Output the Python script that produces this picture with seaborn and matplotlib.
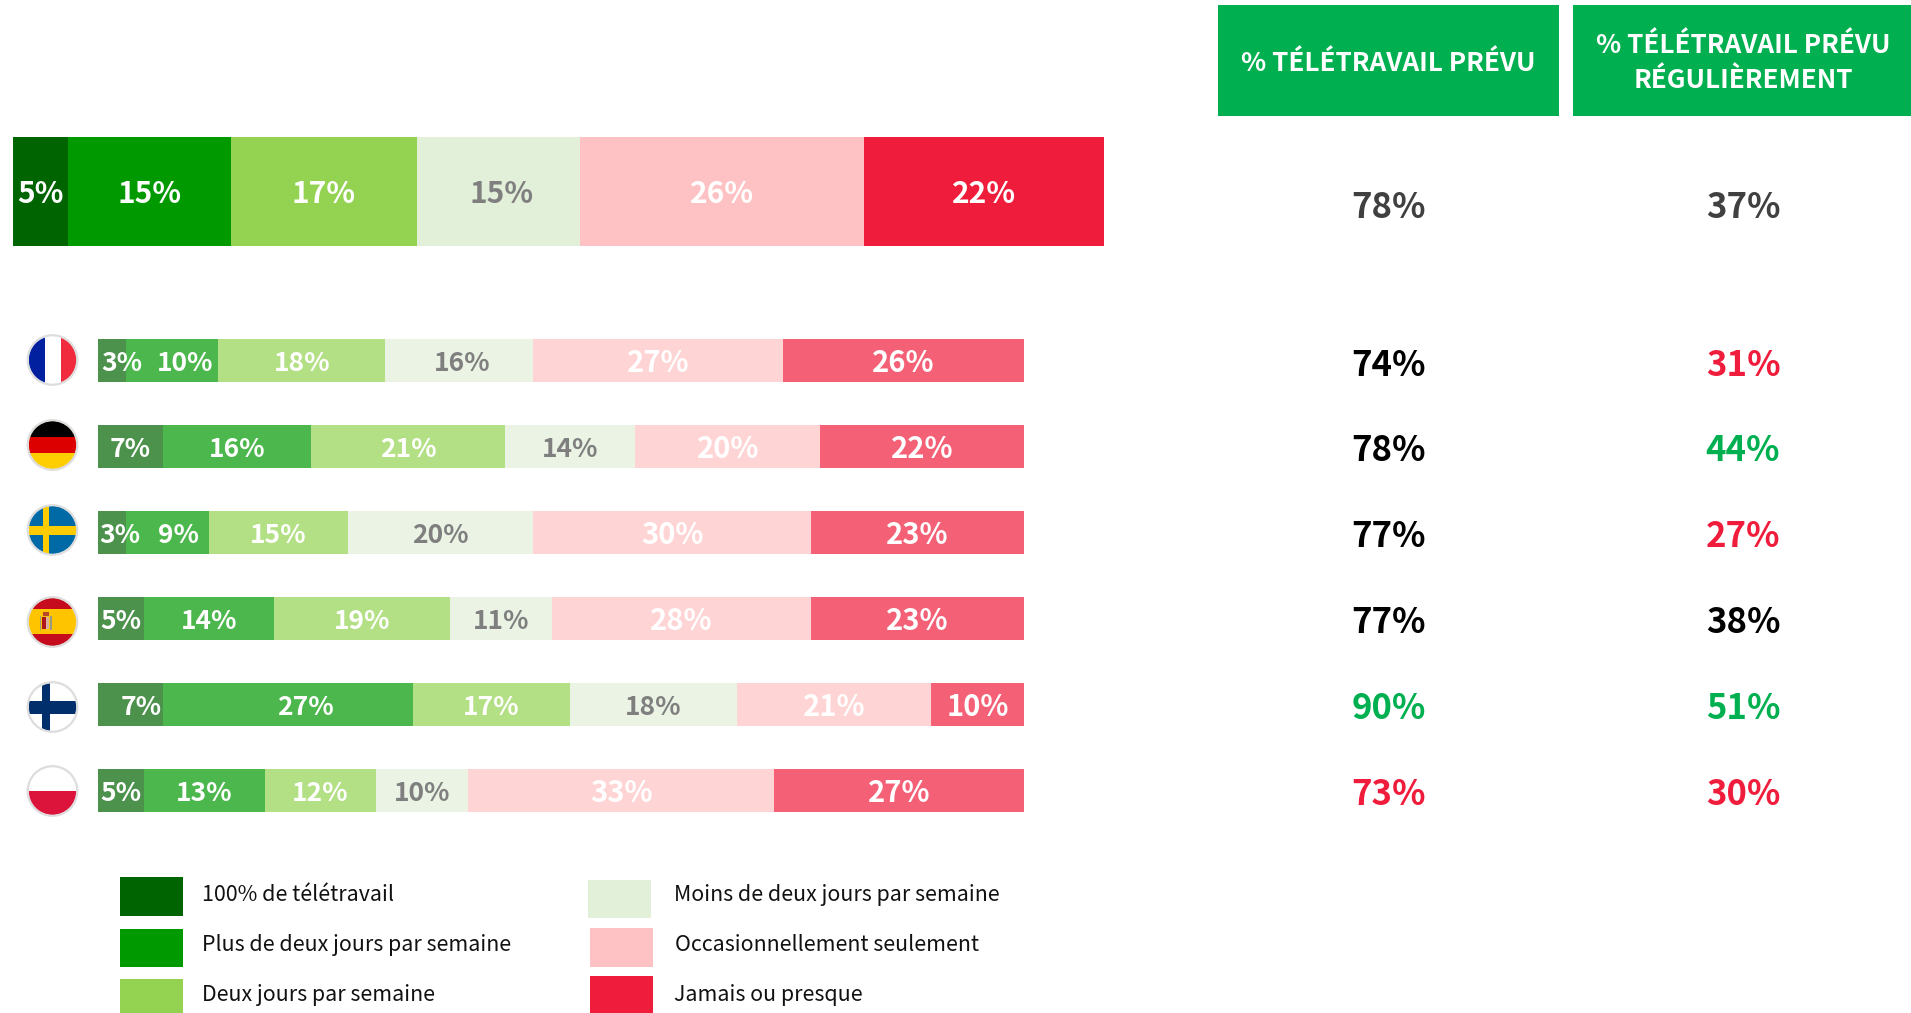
import matplotlib
matplotlib.use("Agg")
import matplotlib.pyplot as plt
from matplotlib.patches import Rectangle, Circle
import pandas as pd
import numpy as np
import seaborn as sns

sns.set_theme(style="white")
FONT = ["Noto Sans CJK JP", "DejaVu Sans"]
plt.rcParams["font.family"] = FONT

W, H = 1911, 1013

categories = ["100% de télétravail", "Plus de deux jours par semaine", "Deux jours par semaine",
              "Moins de deux jours par semaine", "Occasionnellement seulement", "Jamais ou presque"]
colors = ["#006400", "#009900", "#94D352", "#E2EFD9", "#FFC2C4", "#F01C3B"]
label_colors = ["white", "white", "white", "#7F7F7F", "white", "white"]

overall_values = [5, 15, 17, 15, 26, 22]
countries = ["France", "Allemagne", "Suède", "Espagne", "Finlande", "Pologne"]
france = [3, 10, 18, 16, 27, 26]
germany = [7, 16, 21, 14, 20, 22]
sweden = [3, 9, 15, 20, 30, 23]
spain = [5, 14, 19, 11, 28, 23]
finland = [7, 27, 17, 18, 21, 10]
poland = [5, 13, 12, 10, 33, 27]

header_1 = "% TÉLÉTRAVAIL PRÉVU"
header_2 = "% TÉLÉTRAVAIL PRÉVU\nRÉGULIÈREMENT"
overall_planned = 78
overall_regular = 37
planned = [74, 78, 77, 77, 90, 73]
regular = [31, 44, 27, 38, 51, 30]
planned_colors = ["black", "black", "black", "black", "#00B050", "#F01C3B"]
regular_colors = ["#F01C3B", "#00B050", "#F01C3B", "black", "#00B050", "#F01C3B"]

# manual label nudges (px) for narrow segments, as placed in the original: (row, segment) -> dx
nudges = {(-1, 3): 3, (0, 0): 10, (0, 1): 13, (0, 3): 3, (2, 0): 8, (2, 1): 11, (4, 0): 11, (4, 1): 18}


def axes_px(fig, x0, y0, x1, y1):
    return fig.add_axes([x0 / W, 1 - y1 / H, (x1 - x0) / W, (y1 - y0) / H])


def stacked(ax, names, rows, alpha, width, row_ids, sizes):
    rows = np.array(rows)
    left = np.zeros(len(names))
    for j, cat in enumerate(categories):
        df = pd.DataFrame({"pays": names, "val": rows[:, j]})
        sns.barplot(data=df, x="val", y="pays", orient="y", left=left, color=colors[j], saturation=1,
                    width=width, alpha=alpha, linewidth=0, ax=ax, errorbar=None, dodge=False)
        left = left + rows[:, j]
    ax.set_xlim(0, 100)
    ax.set_ylim(len(names) - 0.5, -0.5)
    ax.axis("off")
    bbox_w = ax.get_position().width * W
    bbox_h = ax.get_position().height * H / len(names)
    for i, name in enumerate(names):
        c = 0
        for j in range(6):
            v = rows[i, j]
            dx = nudges.get((row_ids[i], j), 0) / bbox_w * 100
            ax.text(c + v / 2 + dx, i + 2.6 / bbox_h, f"{v}%", ha="center", va="center", color=label_colors[j],
                    fontsize=sizes[j], fontweight="bold", family=FONT)
            c += v


fig = plt.figure(figsize=(W / 100, H / 100), dpi=100, facecolor="white")

top = axes_px(fig, 13, 137, 1104, 246)
stacked(top, ["Ensemble"], [overall_values], 1.0, 1.0, [-1], [21.5] * 6)

rows_ax = axes_px(fig, 98, 317.5, 1024, 833.5)
stacked(rows_ax, countries, [france, germany, sweden, spain, finland, poland], 0.7, 0.5,
        list(range(6)), [19, 19, 19, 19, 21, 21])

ov = fig.add_axes([0, 0, 1, 1], zorder=5)
ov.set_xlim(0, W)
ov.set_ylim(H, 0)
ov.axis("off")
ov.patch.set_alpha(0)

# header boxes
HG = "#00B050"
ov.add_patch(Rectangle((1218, 5), 341, 111, color=HG, lw=0))
ov.add_patch(Rectangle((1573, 5), 338, 111, color=HG, lw=0))
ov.text(1388.5, 63, header_1, color="white", ha="center", va="center", fontsize=18.8, fontweight="bold")
ov.text(1743, 63, header_2, color="white", ha="center", va="center", fontsize=18.8, fontweight="bold",
        linespacing=1.38)

# right-hand values
VS = 25
ov.text(1388.5, 207, f"{overall_planned}%", color="#404040", ha="center", va="center", fontsize=VS, fontweight="bold")
ov.text(1743, 207, f"{overall_regular}%", color="#404040", ha="center", va="center", fontsize=VS, fontweight="bold")
val_y = [365, 450, 536, 622, 708, 794]
for y, a, b, ca, cb in zip(val_y, planned, regular, planned_colors, regular_colors):
    ov.text(1388.5, y, f"{a}%", color=ca, ha="center", va="center", fontsize=VS, fontweight="bold")
    ov.text(1743, y, f"{b}%", color=cb, ha="center", va="center", fontsize=VS, fontweight="bold")


# flags
def flag(cx, cy, parts, base):
    r = 24
    clip = Circle((cx, cy), r, transform=ov.transData)
    bg = Rectangle((cx - r, cy - r), 2 * r, 2 * r, color=base, lw=0, zorder=6)
    ov.add_patch(bg)
    bg.set_clip_path(clip)
    for (x0, y0, x1, y1, c) in parts:
        p = Rectangle((cx + x0, cy + y0), x1 - x0, y1 - y0, color=c, lw=0, zorder=7)
        ov.add_patch(p)
        p.set_clip_path(clip)
    ov.add_patch(Circle((cx, cy), 24.8, fill=False, ec="#DDDDDD", lw=1.6, zorder=8))


flag(52.5, 360, [(-24, -24, -7.5, 24, "#00209F"), (8, -24, 24, 24, "#EF2B3D")], "white")
flag(52.5, 445, [(-24, -24, 24, -8, "black"), (-24, -8, 24, 8, "#DD0000")], "#FFCE00")
flag(52.5, 530, [(-24, -4.5, 24, 4.5, "#FECC00"), (-9.5, -24, -3.5, 24, "#FECC00")], "#006AA7")
flag(52.5, 622, [(-24, -24, 24, -13, "#C60B1E"), (-24, 12, 24, 24, "#C60B1E"),
                 (-13, -6, -11.5, 8, "#9A9A80"), (-2.5, -6, -1, 8, "#9A9A80"),
                 (-10.5, -5, -7, 7, "#AD1519"), (-7, -5, -3.5, 7, "#D9B0A0"),
                 (-10, -10, -4, -6, "#B9472B")], "#FFC400")
flag(52.5, 707, [(-24, -6.5, 24, 6.5, "#002F6C"), (-11, -24, -2.5, 24, "#002F6C")], "white")
flag(52.5, 791, [(-24, 0, 24, 24, "#DC143C")], "white")

# legend
swatches = [(120, 877, 183, 916), (120, 929, 183, 967), (120, 979, 183, 1013),
            (588, 880, 651, 918), (590, 928, 653, 967), (590, 976, 653, 1013)]
text_pos = [(202, 895), (202, 945), (202, 995), (674, 895), (675, 945), (674, 995)]
for (x0, y0, x1, y1), (tx, ty), c, name in zip(swatches, text_pos, colors, categories):
    ov.add_patch(Rectangle((x0, y0), x1 - x0, y1 - y0, color=c, lw=0))
    ov.text(tx, ty, name, color="#111111", ha="left", va="center", fontsize=15.4)

fig.savefig("out.png", dpi=100)
